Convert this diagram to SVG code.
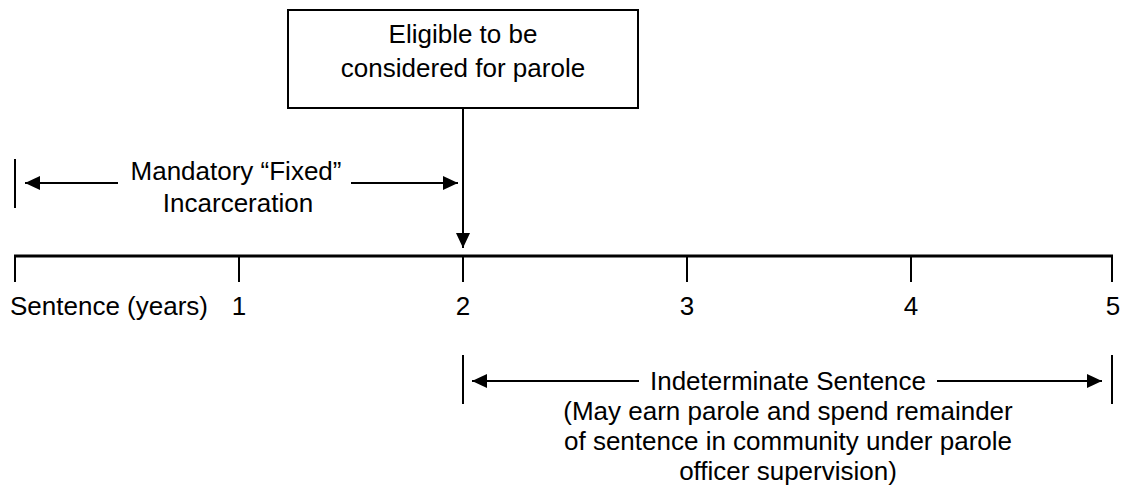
<svg xmlns="http://www.w3.org/2000/svg" width="1124" height="487" viewBox="0 0 1124 487">
  <defs>
    <marker id="ah" markerUnits="userSpaceOnUse" markerWidth="16" markerHeight="16" viewBox="0 0 16 16" refX="15" refY="8" orient="auto">
      <path d="M0,1 L15,8 L0,15 Z" fill="#000"/>
    </marker>
    <style>
      text { font-family: "Liberation Sans", Arial, sans-serif; font-size: 26px; fill: #000; }
      .c { text-anchor: middle; }
      .ln { stroke: #000; stroke-width: 2; fill: none; }
      .arr { stroke: #000; stroke-width: 2; fill: none; marker-end: url(#ah); }
    </style>
  </defs>
  <rect width="1124" height="487" fill="#fff"/>

  <g id="eligible-box">
    <rect x="288" y="10" width="350" height="98" fill="#fff" stroke="#000" stroke-width="2"/>
    <text class="c" x="463" y="43">Eligible to be</text>
    <text class="c" x="463" y="77">considered for parole</text>
  </g>

  <g id="timeline">
    <line x1="14" y1="256" x2="1113" y2="256" stroke="#000" stroke-width="3"/>
    <line class="ln" x1="15" y1="256" x2="15" y2="282"/>
    <line class="ln" x1="239" y1="256" x2="239" y2="282"/>
    <line class="ln" x1="463" y1="256" x2="463" y2="282"/>
    <line class="ln" x1="687" y1="256" x2="687" y2="282"/>
    <line class="ln" x1="911" y1="256" x2="911" y2="282"/>
    <line class="ln" x1="1112" y1="256" x2="1112" y2="282"/>
    <text x="10" y="315">Sentence (years)</text>
    <text class="c" x="239" y="315">1</text>
    <text class="c" x="463" y="315">2</text>
    <text class="c" x="687" y="315">3</text>
    <text class="c" x="911" y="315">4</text>
    <text class="c" x="1113" y="315">5</text>
  </g>

  <g id="mandatory">
    <line class="ln" x1="15" y1="159" x2="15" y2="208"/>
    <text class="c" x="236" y="180">Mandatory “Fixed”</text>
    <text class="c" x="238" y="212">Incarceration</text>
  </g>

  <g id="indeterminate">
    <line class="ln" x1="463" y1="355" x2="463" y2="404"/>
    <line class="ln" x1="1112" y1="355" x2="1112" y2="404"/>
    <text class="c" x="788" y="390">Indeterminate Sentence</text>
    <text class="c" x="788" y="420">(May earn parole and spend remainder</text>
    <text class="c" x="788" y="450">of sentence in community under parole</text>
    <text class="c" x="788" y="480">officer supervision)</text>
  </g>

  <g id="connectors">
    <line class="arr" x1="463" y1="108" x2="463" y2="248"/>
    <line class="arr" x1="118" y1="183" x2="25" y2="183"/>
    <line class="arr" x1="351" y1="183" x2="458" y2="183"/>
    <line class="arr" x1="639" y1="381" x2="472" y2="381"/>
    <line class="arr" x1="937" y1="381" x2="1102" y2="381"/>
  </g>
</svg>
